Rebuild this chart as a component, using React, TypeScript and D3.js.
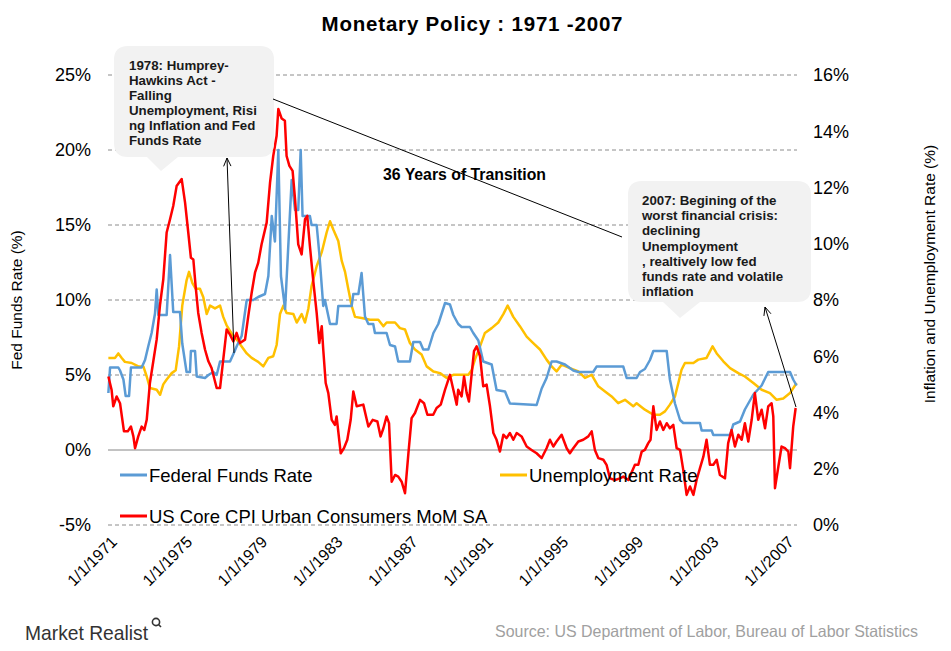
import React from 'react';
import * as d3 from 'd3';

// Federal Funds Rate (left axis, %) — [decimal year, value]
const fedFunds: [number, number][] = [
  [1971.02, 3.8], [1971.11, 5.5], [1971.55, 5.5], [1971.64, 5.3], [1971.82, 4.7], [1971.94, 3.6], [1972.12, 3.6],
  [1972.22, 5.5], [1972.79, 5.5], [1972.97, 6.0], [1973.14, 6.9], [1973.32, 7.8], [1973.5, 9.1], [1973.59, 10.7],
  [1973.68, 9.0], [1974.12, 9.0], [1974.3, 13.0], [1974.47, 9.2], [1974.83, 9.2], [1974.95, 7.1], [1975.18, 5.2],
  [1975.36, 5.2], [1975.41, 6.6], [1975.63, 6.6], [1975.72, 4.9], [1976.16, 4.8], [1976.34, 5.0], [1976.6, 5.2],
  [1976.78, 5.0], [1976.96, 5.9], [1977.49, 5.9], [1977.67, 6.4], [1977.84, 6.9], [1978.11, 7.6], [1978.38, 10.0],
  [1978.73, 10.0], [1978.99, 10.2], [1979.35, 10.4], [1979.53, 11.6], [1979.71, 15.6], [1979.88, 13.9],
  [1980.06, 20.0], [1980.2, 11.6], [1980.42, 9.4], [1980.77, 18.0], [1980.95, 16.0], [1981.12, 16.0],
  [1981.25, 20.0], [1981.35, 15.6], [1981.74, 15.6], [1981.83, 15.0], [1982.1, 15.0], [1982.24, 13.1],
  [1982.45, 9.6], [1982.54, 10.0], [1982.81, 8.4], [1983.16, 8.4], [1983.25, 9.6], [1983.96, 9.6], [1984.05, 10.4],
  [1984.32, 10.4], [1984.49, 11.8], [1984.67, 8.9], [1984.85, 8.4], [1985.11, 8.4], [1985.2, 7.8], [1985.82, 7.8],
  [1986.0, 7.0], [1986.27, 6.9], [1986.44, 5.9], [1987.06, 5.9], [1987.24, 7.2], [1987.6, 7.2], [1987.77, 6.7],
  [1988.04, 6.7], [1988.31, 7.8], [1988.57, 8.4], [1988.93, 9.8], [1989.19, 9.7], [1989.37, 9.0], [1989.63, 8.4],
  [1989.81, 8.2], [1990.25, 8.2], [1990.43, 7.8], [1990.7, 7.3], [1990.96, 5.9], [1991.41, 5.7], [1991.67, 4.0],
  [1992.12, 3.9], [1992.38, 3.1], [1993.8, 3.0], [1994.07, 4.1], [1994.33, 4.8], [1994.6, 5.9], [1994.86, 5.9],
  [1995.31, 5.7], [1995.75, 5.3], [1996.02, 5.2], [1996.81, 5.2], [1996.99, 5.56], [1998.41, 5.56], [1998.59, 4.8],
  [1999.12, 4.8], [1999.3, 5.2], [1999.56, 5.4], [1999.83, 6.0], [2000.01, 6.6], [2000.72, 6.6], [2000.89, 4.7],
  [2001.16, 3.1], [2001.43, 2.0], [2001.6, 1.8], [2002.49, 1.8], [2002.58, 1.3], [2003.11, 1.3], [2003.2, 1.0],
  [2004.09, 1.0], [2004.26, 1.7], [2004.62, 1.9], [2004.88, 2.7], [2005.33, 3.7], [2005.77, 4.3], [2006.12, 5.2],
  [2007.28, 5.2], [2007.45, 4.7], [2007.63, 4.3],
];

// Unemployment Rate (right axis, %)
const unemployment: [number, number][] = [
  [1971.02, 5.94], [1971.37, 5.94], [1971.55, 6.1], [1971.73, 5.94], [1971.9, 5.8], [1972.26, 5.76], [1972.61, 5.64],
  [1972.88, 5.64], [1973.06, 5.28], [1973.23, 4.87], [1973.59, 4.81], [1973.77, 4.63], [1973.94, 5.0], [1974.12, 5.17],
  [1974.39, 5.4], [1974.6, 5.5], [1974.78, 6.35], [1974.95, 7.8], [1975.18, 8.7], [1975.31, 9.0], [1975.49, 8.6],
  [1975.66, 8.4], [1975.89, 8.4], [1976.07, 8.1], [1976.25, 7.5], [1976.43, 7.8], [1976.69, 7.7], [1976.96, 7.8],
  [1977.13, 7.4], [1977.31, 7.1], [1977.58, 6.8], [1977.84, 6.6], [1978.11, 6.35], [1978.38, 6.1], [1978.64, 5.94],
  [1978.99, 5.8], [1979.26, 5.64], [1979.53, 5.94], [1979.79, 6.0], [1979.97, 6.4], [1980.15, 7.5], [1980.33, 7.8],
  [1980.5, 7.54], [1980.86, 7.5], [1981.04, 7.2], [1981.3, 7.5], [1981.48, 7.2], [1981.66, 7.7], [1981.83, 8.5],
  [1982.1, 9.2], [1982.37, 9.7], [1982.63, 10.4], [1982.81, 10.8], [1982.99, 10.5], [1983.25, 10.1], [1983.43, 9.4],
  [1983.61, 9.0], [1983.78, 8.4], [1983.96, 7.8], [1984.14, 7.4], [1984.49, 7.36], [1984.94, 7.3], [1985.38, 7.3],
  [1985.65, 7.07], [1985.82, 7.2], [1986.27, 7.2], [1986.53, 7.0], [1986.8, 6.95], [1987.06, 6.47], [1987.33, 6.24],
  [1987.68, 6.06], [1987.95, 5.64], [1988.31, 5.46], [1988.66, 5.4], [1989.02, 5.23], [1989.37, 5.34], [1989.72, 5.34],
  [1990.17, 5.34], [1990.34, 5.5], [1990.52, 5.88], [1990.79, 6.35], [1991.05, 6.83], [1991.41, 7.0], [1991.76, 7.2],
  [1992.03, 7.5], [1992.26, 7.8], [1992.56, 7.4], [1992.91, 7.07], [1993.27, 6.7], [1993.62, 6.47], [1993.98, 6.24],
  [1994.33, 5.88], [1994.6, 5.64], [1994.86, 5.46], [1995.13, 5.7], [1995.57, 5.58], [1996.02, 5.46], [1996.37, 5.23],
  [1996.73, 5.34], [1997.08, 4.93], [1997.44, 4.75], [1997.79, 4.57], [1998.14, 4.33], [1998.5, 4.45], [1998.94, 4.22],
  [1999.12, 4.33], [1999.56, 4.1], [2000.01, 3.92], [2000.36, 3.92], [2000.63, 4.04], [2000.89, 4.28], [2001.16, 4.57],
  [2001.34, 5.05], [2001.51, 5.52], [2001.69, 5.76], [2002.14, 5.76], [2002.4, 5.88], [2002.84, 5.94], [2003.16, 6.35],
  [2003.38, 6.1], [2003.73, 5.82], [2004.09, 5.58], [2004.53, 5.4], [2004.88, 5.28], [2005.33, 5.05], [2005.77, 4.81],
  [2006.21, 4.69], [2006.57, 4.45], [2006.92, 4.5], [2007.28, 4.69], [2007.63, 5.05],
];

// US Core CPI Urban Consumers MoM SA (right axis, %)
const coreCpi: [number, number][] = [
  [1971.02, 5.28], [1971.19, 4.81], [1971.28, 4.22], [1971.46, 4.57], [1971.64, 4.33], [1971.85, 3.33], [1972.05, 3.33],
  [1972.22, 3.5], [1972.35, 3.15], [1972.44, 2.73], [1972.61, 3.15], [1972.79, 3.5], [1972.93, 3.38], [1973.06, 3.74],
  [1973.23, 5.05], [1973.41, 5.82], [1973.59, 6.6], [1973.77, 7.84], [1973.94, 8.73], [1974.12, 10.4], [1974.3, 10.87],
  [1974.47, 11.34], [1974.65, 12.05], [1974.92, 12.3], [1975.1, 11.46], [1975.27, 10.4], [1975.41, 9.5], [1975.54, 9.44],
  [1975.66, 8.5], [1975.8, 7.54], [1975.98, 6.83], [1976.16, 6.24], [1976.34, 5.82], [1976.51, 5.58], [1976.78, 4.87],
  [1976.96, 4.87], [1977.13, 5.88], [1977.31, 6.95], [1977.49, 6.77], [1977.67, 6.53], [1977.84, 6.83], [1978.02, 6.47],
  [1978.29, 6.59], [1978.46, 7.42], [1978.64, 8.25], [1978.82, 8.97], [1978.99, 9.32], [1979.17, 9.98], [1979.44, 10.75],
  [1979.62, 12.17], [1979.79, 13.12], [1979.97, 13.84], [1980.06, 14.79], [1980.24, 14.45], [1980.41, 14.37],
  [1980.5, 13.12], [1980.65, 12.77], [1980.82, 12.59], [1980.95, 11.58], [1981.12, 9.98], [1981.3, 9.62], [1981.48, 10.87],
  [1981.6, 10.99], [1981.74, 9.92], [1981.92, 8.67], [1982.1, 7.54], [1982.24, 6.47], [1982.37, 7.07], [1982.45, 6.24],
  [1982.58, 5.05], [1982.72, 4.69], [1982.9, 3.74], [1983.07, 3.56], [1983.16, 3.86], [1983.38, 2.55], [1983.55, 2.73],
  [1983.73, 3.03], [1983.91, 3.74], [1984.05, 4.75], [1984.23, 4.22], [1984.58, 4.28], [1984.85, 3.5], [1985.08, 3.74],
  [1985.33, 3.68], [1985.5, 3.15], [1985.65, 3.44], [1985.82, 3.86], [1985.95, 3.62], [1986.09, 1.54], [1986.27, 1.78],
  [1986.44, 1.72], [1986.62, 1.54], [1986.8, 1.13], [1986.98, 2.55], [1987.15, 3.8], [1987.33, 3.98], [1987.6, 4.45],
  [1987.81, 4.33], [1987.99, 3.92], [1988.3, 3.92], [1988.48, 4.16], [1988.7, 4.28], [1988.93, 4.81], [1989.19, 5.34],
  [1989.37, 4.81], [1989.55, 4.28], [1989.63, 4.81], [1989.81, 4.57], [1989.94, 5.28], [1990.08, 4.69], [1990.2, 4.39],
  [1990.34, 5.34], [1990.47, 6.18], [1990.61, 6.35], [1990.79, 6.0], [1990.96, 4.93], [1991.14, 4.99], [1991.32, 4.22],
  [1991.5, 3.27], [1991.67, 3.03], [1991.85, 2.61], [1992.03, 3.21], [1992.2, 3.09], [1992.38, 3.27], [1992.56, 3.03],
  [1992.74, 3.27], [1993.0, 3.15], [1993.27, 2.79], [1993.53, 2.67], [1993.8, 2.55], [1994.07, 2.38], [1994.33, 2.73],
  [1994.51, 3.03], [1994.69, 2.79], [1994.86, 2.97], [1995.13, 3.21], [1995.4, 2.73], [1995.57, 2.55], [1995.75, 2.73],
  [1996.02, 2.97], [1996.28, 3.03], [1996.55, 3.15], [1996.73, 3.33], [1996.9, 2.67], [1997.08, 2.38], [1997.35, 2.32],
  [1997.52, 2.14], [1997.7, 1.66], [1997.97, 1.6], [1998.23, 1.66], [1998.41, 1.72], [1998.68, 1.6], [1999.03, 2.14],
  [1999.21, 2.14], [1999.39, 2.61], [1999.56, 2.67], [1999.74, 2.91], [1999.86, 3.03], [2000.01, 4.22], [2000.18, 3.38],
  [2000.36, 3.68], [2000.54, 3.38], [2000.72, 3.62], [2000.89, 3.44], [2001.07, 3.56], [2001.25, 2.73], [2001.43, 2.67],
  [2001.6, 1.96], [2001.78, 1.07], [2001.96, 1.37], [2002.14, 1.07], [2002.31, 1.6], [2002.49, 2.02], [2002.67, 2.43],
  [2002.84, 3.03], [2003.02, 2.14], [2003.2, 2.14], [2003.38, 2.32], [2003.55, 1.78], [2003.82, 1.66], [2003.99, 2.91],
  [2004.17, 3.38], [2004.35, 2.79], [2004.53, 3.21], [2004.71, 3.03], [2004.88, 3.62], [2005.06, 2.97], [2005.24, 3.74],
  [2005.41, 4.69], [2005.59, 3.74], [2005.77, 4.1], [2005.95, 3.44], [2006.12, 4.22], [2006.3, 4.33], [2006.39, 3.86],
  [2006.48, 1.31], [2006.66, 2.08], [2006.83, 2.79], [2007.01, 2.73], [2007.19, 2.61], [2007.28, 2.02], [2007.45, 3.5],
  [2007.58, 4.16],
];

const leftTicks = [-5, 0, 5, 10, 15, 20, 25];
const rightTicks = [0, 2, 4, 6, 8, 10, 12, 14, 16];
const xTickYears = [1971, 1975, 1979, 1983, 1987, 1991, 1995, 1999, 2003, 2007];

const callout1Lines = ['1978: Humprey-', 'Hawkins Act -', 'Falling', 'Unemployment, Risi', 'ng Inflation and Fed', 'Funds Rate'];
const callout2Lines = ['2007: Begining of the', 'worst financial crisis:', 'declining', 'Unemployment', ', realtively low fed', 'funds rate and volatile', 'inflation'];

const FONT = '"Liberation Sans", Arial, sans-serif';
const BLUE = '#5B9BD5';
const YELLOW = '#FFC000';
const RED = '#FF0000';

function calloutPath(x: number, y: number, w: number, h: number, r: number, p1: number, p2: number, ax: number, ay: number) {
  return `M${x + r},${y} H${x + w - r} Q${x + w},${y} ${x + w},${y + r} V${y + h - r} Q${x + w},${y + h} ${x + w - r},${y + h} ` +
    `H${p2} L${ax},${ay} L${p1},${y + h} H${x + r} Q${x},${y + h} ${x},${y + h - r} V${y + r} Q${x},${y} ${x + r},${y} Z`;
}

function arrowHead(x1: number, y1: number, x2: number, y2: number, size = 9, spread = 0.42) {
  const a = Math.atan2(y1 - y2, x1 - x2);
  const ax = x2 + size * Math.cos(a + spread), ay = y2 + size * Math.sin(a + spread);
  const bx = x2 + size * Math.cos(a - spread), by = y2 + size * Math.sin(a - spread);
  return `M${ax},${ay} L${x2},${y2} L${bx},${by}`;
}

export default function App() {
  const x = d3.scaleLinear().domain([1971, 2007.63]).range([108, 796.6]);
  const yL = d3.scaleLinear().domain([-5, 25]).range([525, 75]);
  const yR = d3.scaleLinear().domain([0, 16]).range([525, 75]);

  const lineL = d3.line<[number, number]>().x(d => x(d[0])).y(d => yL(d[1]));
  const lineR = d3.line<[number, number]>().x(d => x(d[0])).y(d => yR(d[1]));

  const a1 = { x1: 234, y1: 353, x2: 227, y2: 158 };
  const a2 = { x1: 796, y1: 407, x2: 765, y2: 307 };

  return (
    <svg width={951} height={651} style={{ position: 'absolute', left: 0, top: 0, background: '#fff' }} fontFamily={FONT}>
      <rect x={0} y={0} width={951} height={651} fill="#fff" />
      <text x={472} y={31} textAnchor="middle" fontSize={20.5} fontWeight="bold" textLength={301} lengthAdjust="spacing">Monetary Policy : 1971 -2007</text>

      {/* gridlines */}
      {leftTicks.map(t => (
        <line key={t} x1={108} x2={797} y1={yL(t)} y2={yL(t)} stroke={t === 0 ? '#868686' : '#8c8c8c'} strokeWidth={1}
          strokeDasharray={t === 0 ? undefined : '4,3'} />
      ))}

      {/* left axis labels */}
      {leftTicks.map(t => (
        <text key={t} x={91} y={yL(t)} dy="0.35em" textAnchor="end" fontSize={18}>{`${t}%`}</text>
      ))}
      {/* right axis labels */}
      {rightTicks.map(t => (
        <text key={t} x={813} y={yR(t)} dy="0.35em" textAnchor="start" fontSize={18}>{`${t}%`}</text>
      ))}

      <text transform="translate(22,300) rotate(-90)" textAnchor="middle" fontSize={15.5}>Fed Funds Rate (%)</text>
      <text transform="translate(935,274) rotate(-90)" textAnchor="middle" fontSize={15.5}>Inflation and Unemployment Rate (%)</text>

      {/* x labels */}
      {xTickYears.map(yr => (
        <text key={yr} transform={`translate(${x(yr) + 10},${543}) rotate(-45)`} textAnchor="end" fontSize={16}>{`1/1/${yr}`}</text>
      ))}

      {/* series */}
      <path d={lineR(unemployment) || ''} fill="none" stroke={YELLOW} strokeWidth={2.5} strokeLinejoin="round" />
      <path d={lineL(fedFunds) || ''} fill="none" stroke={BLUE} strokeWidth={2.5} strokeLinejoin="round" />
      <path d={lineR(coreCpi) || ''} fill="none" stroke={RED} strokeWidth={2.5} strokeLinejoin="round" />

      {/* legend */}
      <line x1={120} x2={147} y1={475} y2={475} stroke={BLUE} strokeWidth={3} />
      <text x={149} y={482} fontSize={18.5}>Federal Funds Rate</text>
      <line x1={500} x2={527} y1={475} y2={475} stroke={YELLOW} strokeWidth={3} />
      <text x={529} y={482} fontSize={18.5}>Unemployment Rate</text>
      <line x1={120} x2={147} y1={516} y2={516} stroke={RED} strokeWidth={3} />
      <text x={149} y={523} fontSize={18.5}>US Core CPI Urban Consumers MoM SA</text>

      {/* callout 1 */}
      <path d={calloutPath(114, 46, 160, 111, 14, 147, 178, 161, 171)} fill="#f2f2f2" />
      {callout1Lines.map((l, i) => (
        <text key={i} x={129} y={70 + i * 15} fontSize={13.3} fontWeight="bold" fill="#1a1a1a">{l}</text>
      ))}
      {/* callout 2 */}
      <path d={calloutPath(628, 181, 183, 121, 14, 663, 700, 680, 318)} fill="#f2f2f2" />
      {callout2Lines.map((l, i) => (
        <text key={i} x={642} y={205 + i * 15.2} fontSize={13.3} fontWeight="bold" fill="#1a1a1a">{l}</text>
      ))}

      {/* transition line & text */}
      <text x={383} y={180} fontSize={15.8} fontWeight="bold">36 Years of Transition</text>
      <line x1={273} y1={99} x2={622} y2={237} stroke="#000" strokeWidth={1} />

      {/* arrows */}
      <line x1={a1.x1} y1={a1.y1} x2={a1.x2} y2={a1.y2} stroke="#000" strokeWidth={1} />
      <path d={arrowHead(a1.x1, a1.y1, a1.x2, a1.y2)} fill="none" stroke="#000" strokeWidth={1} />
      <line x1={a2.x1} y1={a2.y1} x2={a2.x2} y2={a2.y2} stroke="#000" strokeWidth={1} />
      <path d={arrowHead(a2.x1, a2.y1, a2.x2, a2.y2)} fill="none" stroke="#000" strokeWidth={1} />

      {/* footer */}
      <text x={25} y={640} fontSize={21} fill="#333" textLength={123} lengthAdjust="spacingAndGlyphs">Market Realist</text>
      <circle cx={156} cy={622} r={3.6} fill="none" stroke="#333" strokeWidth={1.6} />
      <line x1={158.5} y1={624.5} x2={161} y2={627} stroke="#333" strokeWidth={1.6} />
      <text x={918} y={637} textAnchor="end" fontSize={16.5} fill="#a0a0a0" textLength={423} lengthAdjust="spacingAndGlyphs">Source: US Department of Labor, Bureau of Labor Statistics</text>
    </svg>
  );
}
